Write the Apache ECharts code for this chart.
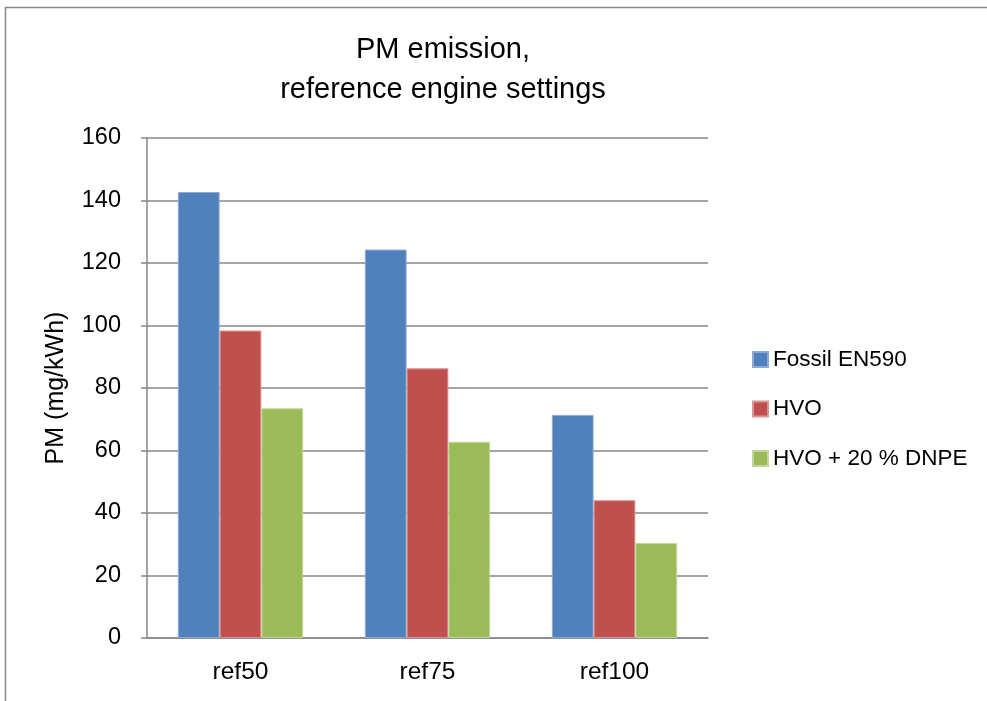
<!DOCTYPE html>
<html><head><meta charset="utf-8">
<script src="https://cdn.jsdelivr.net/npm/echarts@6/dist/echarts.min.js"></script>
<style>html,body{margin:0;padding:0;background:#fff}#c{width:987px;height:701px}</style>
</head><body><div id="c"></div>
<script>
const categories = ['ref50', 'ref75', 'ref100'];
const seriesNames = ['Fossil EN590', 'HVO', 'HVO + 20 % DNPE'];
const fossil = [142.7, 124.3, 71.4];
const hvo = [98.4, 86.3, 44.1];
const hvoDnpe = [73.5, 62.8, 30.4];
const yTicks = [0, 20, 40, 60, 80, 100, 120, 140, 160];
const colors = ['#4F81BD', '#C0504D', '#9BBB59'];
const borders = ['#8DAAD4', '#D99694', '#C3D69B'];
const FONT = "'Liberation Sans', Arial, sans-serif";

const chart = echarts.init(document.getElementById('c'));
const data = [fossil, hvo, hvoDnpe];
chart.setOption({
  animation: false,
  textStyle: { fontFamily: FONT },
  title: {
    text: 'PM emission,\nreference engine settings',
    left: 438, top: 25, textAlign: 'center',
    textStyle: { fontFamily: FONT, fontSize: 29, fontWeight: 'normal', color: '#000', lineHeight: 40 }
  },
  graphic: [{
    type: 'rect', shape: { x: 5.5, y: 7.5, width: 1100, height: 1000 },
    style: { fill: 'none', stroke: '#868686', lineWidth: 1.5 }, silent: true
  }],
  legend: {
    orient: 'vertical', left: 747, top: 343, itemGap: 26.5,
    itemWidth: 15, itemHeight: 15, icon: 'rect',
    textStyle: { fontFamily: FONT, fontSize: 22.5, color: '#000', padding: [0, 0, 0, 0] },
    data: seriesNames
  },
  grid: { left: 147, right: 279, top: 138, bottom: 63 },
  xAxis: {
    type: 'category', data: categories,
    axisLine: { lineStyle: { color: '#868686', width: 1.5 } },
    axisTick: { show: false },
    axisLabel: { fontFamily: FONT, fontSize: 24.5, color: '#000', margin: 22 }
  },
  yAxis: {
    type: 'value', min: yTicks[0], max: yTicks[yTicks.length - 1], interval: 20,
    name: 'PM (mg/kWh)', nameLocation: 'middle', nameGap: 78,
    nameTextStyle: { fontFamily: FONT, fontSize: 25, color: '#000' },
    axisLine: { show: true, lineStyle: { color: '#868686', width: 1.5 } },
    axisTick: { show: true, length: 6, lineStyle: { color: '#868686', width: 1.5 } },
    splitLine: { lineStyle: { color: '#868686', width: 1.5 } },
    axisLabel: { fontFamily: FONT, fontSize: 23.5, color: '#000', margin: 26 }
  },
  series: seriesNames.map((n, i) => ({
    name: n, type: 'bar', data: data[i],
    barGap: '0%', barCategoryGap: '33%',
    itemStyle: { color: colors[i], borderColor: borders[i], borderWidth: 1 }
  }))
});
</script></body></html>
